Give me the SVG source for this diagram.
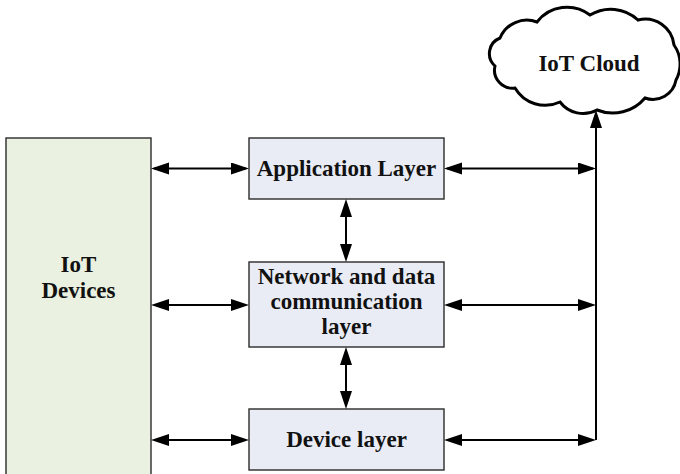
<svg xmlns="http://www.w3.org/2000/svg" width="680" height="474" viewBox="0 0 680 474">
<style>
.box{fill:#E9ECF5;stroke:#2b2b2b;stroke-width:1.4}
.dev{fill:#EBF1E0;stroke:#2b2b2b;stroke-width:1.4}
.t{font-family:"Liberation Serif","Times New Roman",serif;font-weight:bold;font-size:23px;fill:#111;text-anchor:middle}
.c{stroke:#000;stroke-width:2;fill:none}
.ar{marker-start:url(#ah);marker-end:url(#ah)}
.a1{marker-end:url(#ah)}
</style>
<defs>
<marker id="ah" markerUnits="userSpaceOnUse" markerWidth="19" markerHeight="13" refX="15" refY="6" orient="auto-start-reverse" viewBox="0 0 19 13">
<path d="M0,0 L18,6 L0,12 z" fill="#000"/>
</marker>
</defs>
<rect width="680" height="474" fill="#fff"/>
<g id="iot-devices">
<rect class="dev" x="6" y="138" width="145" height="345"/>
<text class="t" x="78.5" y="272">IoT</text>
<text class="t" x="78.5" y="298">Devices</text>
</g>
<g id="application-layer">
<rect class="box" x="249" y="138" width="195" height="61"/>
<text class="t" x="346.5" y="176">Application Layer</text>
</g>
<g id="network-layer">
<rect class="box" x="249" y="262" width="195" height="85"/>
<text class="t" x="346.5" y="284">Network and data</text>
<text class="t" x="346.5" y="309">communication</text>
<text class="t" x="346.5" y="334">layer</text>
</g>
<g id="device-layer">
<rect class="box" x="249" y="409" width="195" height="61"/>
<text class="t" x="346.5" y="447">Device layer</text>
</g>
<g id="iot-cloud">
<path d="M500 38 A29 29 0 0 1 537 22 A38 38 0 0 1 590 15 A40 40 0 0 1 638 20 A29 29 0 0 1 674 45 A33 33 0 0 1 676 80 A23.5 23.5 0 0 1 645 98 A42 42 0 0 1 597 110 A29 29 0 0 1 560 102 A35 35 0 0 1 515 88 A18 18 0 0 1 495 66 A16.7 16.7 0 0 1 500 38 Z" fill="#fff" stroke="#000" stroke-width="3"/>
<text class="t" x="589" y="71">IoT Cloud</text>
</g>
<g id="connectors">
<line class="c ar" x1="154" y1="168.5" x2="246" y2="168.5"/>
<line class="c ar" x1="154" y1="305" x2="246" y2="305"/>
<line class="c ar" x1="154" y1="440" x2="246" y2="440"/>
<line class="c ar" x1="447" y1="168.5" x2="593" y2="168.5"/>
<line class="c ar" x1="447" y1="305" x2="593" y2="305"/>
<line class="c ar" x1="447" y1="440" x2="593" y2="440"/>
<line class="c ar" x1="346" y1="202" x2="346" y2="259"/>
<line class="c ar" x1="346" y1="350" x2="346" y2="406"/>
<line class="c a1" x1="596" y1="440" x2="596" y2="113"/>
</g>
</svg>
